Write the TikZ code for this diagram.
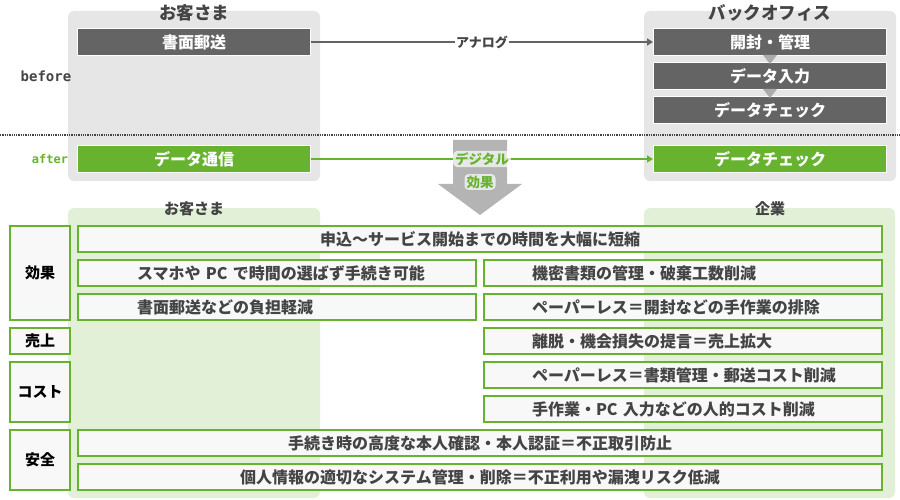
\documentclass[tikz,border=0pt]{standalone}
\usepackage{fontspec}
\setmainfont{Noto Sans CJK JP}
\newfontfamily\monofont{DejaVu Sans Mono}
\usetikzlibrary{calc,positioning,arrows,arrows.meta}
\definecolor{panelgray}{HTML}{E6E6E6}
\definecolor{boxgray}{HTML}{646464}
\definecolor{okgreen}{HTML}{67B22F}
\definecolor{palegreen}{HTML}{E1F0D7}
\definecolor{rowfill}{HTML}{F8F8F8}
\definecolor{txtgray}{HTML}{444444}
\definecolor{arrowgray}{HTML}{B4B4B4}
\definecolor{trigray}{HTML}{ABABAB}
\newcommand{\fs}[1]{\fontsize{#1pt}{#1pt}\selectfont}

\begin{document}
\begin{tikzpicture}[x=1pt,y=-1pt,
   panel/.style={fill=panelgray,rounded corners=6pt},
   gpanel/.style={fill=palegreen,rounded corners=6pt},
   title/.style={text=txtgray,font=\bfseries\fs{17.5}},
   subtitle/.style={text=txtgray,font=\bfseries\fs{15}},
   darkbox/.style={fill=boxgray,draw=white,line width=1pt,text=white,font=\bfseries\fs{16},
      minimum width=233pt,minimum height=27pt,inner sep=0pt},
   greenbox/.style={darkbox,fill=okgreen},
   tab/.style={fill=rowfill,draw=okgreen,line width=2pt,text=txtgray,font=\bfseries\fs{16},
      minimum height=26pt,inner sep=0pt},
   wide/.style={tab,minimum width=804pt},
   lhalf/.style={tab,minimum width=398pt,text width=280pt,align=left},
   rhalf/.style={tab,minimum width=398pt,text width=302pt,align=left},
   cat/.style={fill=rowfill,draw=okgreen,line width=2pt,text=black,font=\bfseries\fs{15},
      minimum width=60pt,inner sep=0pt},
   arr/.style={line width=2.4pt,-{Triangle[length=6pt,width=7pt]}},
   analog/.style={fill=white,inner sep=1.5pt,text=txtgray,font=\bfseries\fs{13}},
   digital/.style={fill=white,fill opacity=0.7,text opacity=1,rounded corners=4pt,
      inner xsep=2pt,inner ysep=1.5pt,text=okgreen,font=\bfseries\fs{13.5}}]
\useasboundingbox (0,0) rectangle (900,500);

% before / after
\fill[panel] (68,11) rectangle (320,181);
\fill[panel] (644,11) rectangle (896,181);
\node[title] (topL) at (194,13) {お客さま};
\node[title] (topR) at (770,13) {バックオフィス};
\node[darkbox] (mail) at (194,42) {書面郵送};
\node[darkbox] (open) at (770,42) {開封・管理};
\node[darkbox] (input) at (770,76) {データ入力};
\node[darkbox] (check) at (770,110) {データチェック};
\foreach \a in {open,input}
   \fill[trigray] ($(\a.south)+(-7,-1)$) -- ($(\a.south)+(7,-1)$) -- ($(\a.south)+(0,8)$) -- cycle;
\node[text=txtgray,font=\monofont\bfseries\fs{14}] (before) at (46,76) {before};
\draw[txtgray,densely dotted,line width=1.3pt] (0,135) -- (900,135);
\node[text=okgreen,font=\monofont\bfseries\fs{12}] (after) at (50,159) {after};
\node[greenbox] (digi) at (194,159) {データ通信};
\node[greenbox] (dcheck) at (770,159) {データチェック};

% big arrow
\fill[arrowgray] (453,140) -- (507,140) -- (507,184) -- (522,184) -- (480,215) -- (438,184) -- (453,184) -- cycle;
\draw[arr,boxgray] (mail) -- node[analog] {アナログ} (open);
\draw[arr,okgreen] (digi) -- node[digital] {デジタル} (dcheck);
\node[digital] (gain) at (480,182) {効果};

% effects
\fill[gpanel] (68,208) rectangle (320,498);
\fill[gpanel] (644,208) rectangle (895,498);
\node[subtitle] (botL) at (194,209) {お客さま};
\node[subtitle] (botR) at (770,209) {企業};
\foreach \n/\y/\h/\t in {kouka/273/94/効果, uriage/341/26/売上, cost/392/60/コスト, anzen/460/60/安全}
   \node[cat,minimum height=\h pt] (\n) at (40,\y) {\t};
\foreach \n/\y/\t in {w1/239/申込～サービス開始までの時間を大幅に短縮,
                      w7/443/手続き時の高度な本人確認・本人認証＝不正取引防止,
                      w8/477/個人情報の適切なシステム管理・削除＝不正利用や漏洩リスク低減}
   \node[wide] (\n) at (480,\y) {\t};
\foreach \n/\y/\t in {l2/273/スマホや~PC~で時間の選ばず手続き可能, l3/307/書面郵送などの負担軽減}
   \node[lhalf] (\n) at (277,\y) {\t};
\foreach \n/\y/\t in {r2/273/機密書類の管理・破棄工数削減,
                      r3/307/ペーパーレス＝開封などの手作業の排除,
                      r4/341/離脱・機会損失の提言＝売上拡大,
                      r5/375/ペーパーレス＝書類管理・郵送コスト削減,
                      r6/409/手作業・PC~入力などの人的コスト削減}
   \node[rhalf] (\n) at (683,\y) {\t};
\end{tikzpicture}
\end{document}
